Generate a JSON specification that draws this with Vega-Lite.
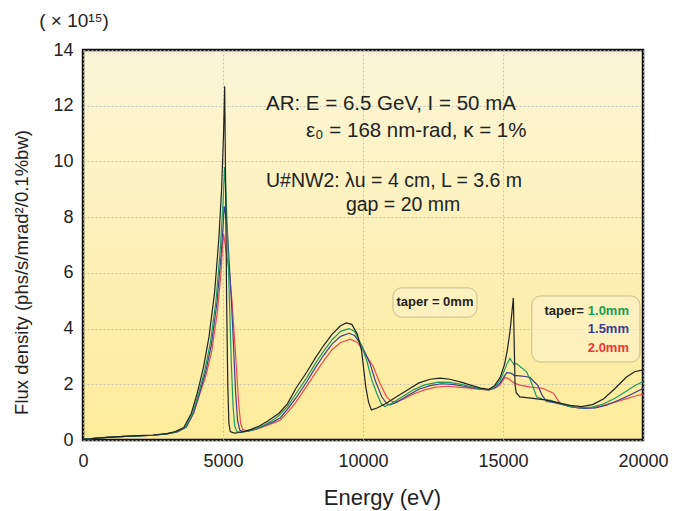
{
  "$schema": "https://vega.github.io/schema/vega-lite/v6.json",
  "width": 560,
  "height": 390,
  "autosize": {"type": "none"},
  "padding": {"left": 83, "top": 50, "right": 31, "bottom": 71},
  "background": "white",
  "config": {
    "font": "Liberation Sans",
    "view": {
      "stroke": "#111111",
      "strokeWidth": 2.5,
      "fill": {"gradient": "linear", "x1": 0, "y1": 0, "x2": 0, "y2": 1,
        "stops": [{"offset": 0, "color": "#fbf6d8"}, {"offset": 0.5, "color": "#fdf0b8"}, {"offset": 1, "color": "#fcec9a"}]}
    },
    "axis": {
      "domain": false, "ticks": false, "labelFlush": false, "labelOverlap": false,
      "grid": true, "gridColor": "#b8b8b8", "gridDash": [2, 2], "gridWidth": 0.8,
      "labelFont": "Liberation Sans", "labelFontSize": 18, "labelColor": "#222222",
      "titleFont": "Liberation Sans", "titleFontWeight": "normal", "titleColor": "#222222"
    }
  },
  "data": {"values": [
    {"e":0,"f":0.02,"s":"2.0"},{"e":500,"f":0.07,"s":"2.0"},{"e":1000,"f":0.1,"s":"2.0"},{"e":1500,"f":0.13,"s":"2.0"},{"e":2000,"f":0.15,"s":"2.0"},{"e":2500,"f":0.17,"s":"2.0"},{"e":3000,"f":0.22,"s":"2.0"},{"e":3400,"f":0.3,"s":"2.0"},{"e":3700,"f":0.48,"s":"2.0"},{"e":3950,"f":0.96,"s":"2.0"},{"e":4180,"f":1.68,"s":"2.0"},{"e":4400,"f":2.35,"s":"2.0"},{"e":4600,"f":3.2,"s":"2.0"},{"e":4800,"f":4.6,"s":"2.0"},{"e":4920,"f":5.9,"s":"2.0"},{"e":4990,"f":7.0,"s":"2.0"},{"e":5020,"f":7.4,"s":"2.0"},{"e":5080,"f":7.0,"s":"2.0"},{"e":5150,"f":6.5,"s":"2.0"},{"e":5230,"f":6.0,"s":"2.0"},{"e":5320,"f":5.0,"s":"2.0"},{"e":5400,"f":3.8,"s":"2.0"},{"e":5480,"f":2.6,"s":"2.0"},{"e":5560,"f":1.3,"s":"2.0"},{"e":5630,"f":0.6,"s":"2.0"},{"e":5700,"f":0.38,"s":"2.0"},{"e":5850,"f":0.32,"s":"2.0"},{"e":6050,"f":0.35,"s":"2.0"},{"e":6300,"f":0.42,"s":"2.0"},{"e":6600,"f":0.53,"s":"2.0"},{"e":6900,"f":0.65,"s":"2.0"},{"e":7050,"f":0.72,"s":"2.0"},{"e":7300,"f":0.98,"s":"2.0"},{"e":7600,"f":1.35,"s":"2.0"},{"e":8000,"f":1.95,"s":"2.0"},{"e":8300,"f":2.4,"s":"2.0"},{"e":8600,"f":2.85,"s":"2.0"},{"e":8900,"f":3.25,"s":"2.0"},{"e":9200,"f":3.5,"s":"2.0"},{"e":9550,"f":3.62,"s":"2.0"},{"e":9800,"f":3.5,"s":"2.0"},{"e":10050,"f":3.15,"s":"2.0"},{"e":10370,"f":2.63,"s":"2.0"},{"e":10600,"f":2.05,"s":"2.0"},{"e":10840,"f":1.55,"s":"2.0"},{"e":11000,"f":1.4,"s":"2.0"},{"e":11140,"f":1.37,"s":"2.0"},{"e":11400,"f":1.45,"s":"2.0"},{"e":11800,"f":1.65,"s":"2.0"},{"e":12200,"f":1.8,"s":"2.0"},{"e":12600,"f":1.9,"s":"2.0"},{"e":13000,"f":1.93,"s":"2.0"},{"e":13400,"f":1.9,"s":"2.0"},{"e":13800,"f":1.86,"s":"2.0"},{"e":14200,"f":1.82,"s":"2.0"},{"e":14500,"f":1.8,"s":"2.0"},{"e":14700,"f":1.85,"s":"2.0"},{"e":14900,"f":1.98,"s":"2.0"},{"e":15070,"f":2.25,"s":"2.0"},{"e":15200,"f":2.2,"s":"2.0"},{"e":15400,"f":2.05,"s":"2.0"},{"e":15600,"f":1.97,"s":"2.0"},{"e":16000,"f":1.9,"s":"2.0"},{"e":16440,"f":1.85,"s":"2.0"},{"e":16650,"f":1.75,"s":"2.0"},{"e":16800,"f":1.68,"s":"2.0"},{"e":16950,"f":1.45,"s":"2.0"},{"e":17030,"f":1.32,"s":"2.0"},{"e":17300,"f":1.22,"s":"2.0"},{"e":17700,"f":1.15,"s":"2.0"},{"e":18100,"f":1.15,"s":"2.0"},{"e":18500,"f":1.22,"s":"2.0"},{"e":18900,"f":1.33,"s":"2.0"},{"e":19300,"f":1.45,"s":"2.0"},{"e":19700,"f":1.57,"s":"2.0"},{"e":20000,"f":1.65,"s":"2.0"},

    {"e":0,"f":0.02,"s":"1.5"},{"e":500,"f":0.07,"s":"1.5"},{"e":1000,"f":0.1,"s":"1.5"},{"e":1500,"f":0.13,"s":"1.5"},{"e":2000,"f":0.15,"s":"1.5"},{"e":2500,"f":0.17,"s":"1.5"},{"e":3000,"f":0.22,"s":"1.5"},{"e":3350,"f":0.29,"s":"1.5"},{"e":3680,"f":0.46,"s":"1.5"},{"e":3950,"f":0.98,"s":"1.5"},{"e":4160,"f":1.68,"s":"1.5"},{"e":4380,"f":2.45,"s":"1.5"},{"e":4580,"f":3.4,"s":"1.5"},{"e":4780,"f":4.9,"s":"1.5"},{"e":4920,"f":6.5,"s":"1.5"},{"e":5000,"f":7.6,"s":"1.5"},{"e":5040,"f":8.4,"s":"1.5"},{"e":5090,"f":8.1,"s":"1.5"},{"e":5150,"f":7.6,"s":"1.5"},{"e":5220,"f":6.4,"s":"1.5"},{"e":5300,"f":5.0,"s":"1.5"},{"e":5380,"f":3.3,"s":"1.5"},{"e":5450,"f":1.7,"s":"1.5"},{"e":5520,"f":0.7,"s":"1.5"},{"e":5600,"f":0.35,"s":"1.5"},{"e":5750,"f":0.3,"s":"1.5"},{"e":5950,"f":0.33,"s":"1.5"},{"e":6200,"f":0.4,"s":"1.5"},{"e":6500,"f":0.52,"s":"1.5"},{"e":6800,"f":0.66,"s":"1.5"},{"e":7050,"f":0.8,"s":"1.5"},{"e":7300,"f":1.1,"s":"1.5"},{"e":7600,"f":1.5,"s":"1.5"},{"e":8000,"f":2.1,"s":"1.5"},{"e":8300,"f":2.6,"s":"1.5"},{"e":8600,"f":3.05,"s":"1.5"},{"e":8900,"f":3.45,"s":"1.5"},{"e":9200,"f":3.72,"s":"1.5"},{"e":9500,"f":3.83,"s":"1.5"},{"e":9700,"f":3.75,"s":"1.5"},{"e":9950,"f":3.4,"s":"1.5"},{"e":10250,"f":2.75,"s":"1.5"},{"e":10450,"f":2.1,"s":"1.5"},{"e":10670,"f":1.55,"s":"1.5"},{"e":10850,"f":1.3,"s":"1.5"},{"e":10960,"f":1.26,"s":"1.5"},{"e":11200,"f":1.35,"s":"1.5"},{"e":11600,"f":1.6,"s":"1.5"},{"e":12000,"f":1.82,"s":"1.5"},{"e":12400,"f":1.95,"s":"1.5"},{"e":12800,"f":2.02,"s":"1.5"},{"e":13200,"f":2.0,"s":"1.5"},{"e":13600,"f":1.93,"s":"1.5"},{"e":14000,"f":1.86,"s":"1.5"},{"e":14300,"f":1.82,"s":"1.5"},{"e":14500,"f":1.8,"s":"1.5"},{"e":14700,"f":1.88,"s":"1.5"},{"e":14900,"f":2.05,"s":"1.5"},{"e":15130,"f":2.42,"s":"1.5"},{"e":15280,"f":2.4,"s":"1.5"},{"e":15400,"f":2.32,"s":"1.5"},{"e":15600,"f":2.3,"s":"1.5"},{"e":15800,"f":2.28,"s":"1.5"},{"e":15960,"f":2.25,"s":"1.5"},{"e":16100,"f":2.1,"s":"1.5"},{"e":16250,"f":1.95,"s":"1.5"},{"e":16400,"f":1.6,"s":"1.5"},{"e":16560,"f":1.38,"s":"1.5"},{"e":16800,"f":1.35,"s":"1.5"},{"e":17100,"f":1.28,"s":"1.5"},{"e":17500,"f":1.18,"s":"1.5"},{"e":17900,"f":1.13,"s":"1.5"},{"e":18300,"f":1.15,"s":"1.5"},{"e":18700,"f":1.25,"s":"1.5"},{"e":19100,"f":1.42,"s":"1.5"},{"e":19500,"f":1.6,"s":"1.5"},{"e":19800,"f":1.75,"s":"1.5"},{"e":20000,"f":1.85,"s":"1.5"},

    {"e":0,"f":0.02,"s":"1.0"},{"e":500,"f":0.07,"s":"1.0"},{"e":1000,"f":0.1,"s":"1.0"},{"e":1500,"f":0.13,"s":"1.0"},{"e":2000,"f":0.15,"s":"1.0"},{"e":2500,"f":0.17,"s":"1.0"},{"e":3000,"f":0.22,"s":"1.0"},{"e":3300,"f":0.28,"s":"1.0"},{"e":3650,"f":0.45,"s":"1.0"},{"e":3920,"f":0.96,"s":"1.0"},{"e":4130,"f":1.68,"s":"1.0"},{"e":4350,"f":2.5,"s":"1.0"},{"e":4550,"f":3.5,"s":"1.0"},{"e":4750,"f":5.0,"s":"1.0"},{"e":4900,"f":6.8,"s":"1.0"},{"e":5000,"f":8.5,"s":"1.0"},{"e":5060,"f":9.8,"s":"1.0"},{"e":5110,"f":8.8,"s":"1.0"},{"e":5170,"f":7.0,"s":"1.0"},{"e":5230,"f":5.0,"s":"1.0"},{"e":5300,"f":2.7,"s":"1.0"},{"e":5360,"f":1.2,"s":"1.0"},{"e":5420,"f":0.5,"s":"1.0"},{"e":5500,"f":0.3,"s":"1.0"},{"e":5700,"f":0.28,"s":"1.0"},{"e":5900,"f":0.33,"s":"1.0"},{"e":6100,"f":0.38,"s":"1.0"},{"e":6400,"f":0.5,"s":"1.0"},{"e":6700,"f":0.66,"s":"1.0"},{"e":7000,"f":0.88,"s":"1.0"},{"e":7300,"f":1.2,"s":"1.0"},{"e":7600,"f":1.65,"s":"1.0"},{"e":8000,"f":2.25,"s":"1.0"},{"e":8300,"f":2.75,"s":"1.0"},{"e":8600,"f":3.2,"s":"1.0"},{"e":8900,"f":3.6,"s":"1.0"},{"e":9200,"f":3.9,"s":"1.0"},{"e":9500,"f":4.0,"s":"1.0"},{"e":9700,"f":3.9,"s":"1.0"},{"e":9900,"f":3.5,"s":"1.0"},{"e":10130,"f":2.87,"s":"1.0"},{"e":10300,"f":2.2,"s":"1.0"},{"e":10490,"f":1.68,"s":"1.0"},{"e":10650,"f":1.3,"s":"1.0"},{"e":10780,"f":1.2,"s":"1.0"},{"e":11000,"f":1.3,"s":"1.0"},{"e":11400,"f":1.55,"s":"1.0"},{"e":11800,"f":1.8,"s":"1.0"},{"e":12200,"f":1.98,"s":"1.0"},{"e":12700,"f":2.08,"s":"1.0"},{"e":13100,"f":2.07,"s":"1.0"},{"e":13500,"f":2.0,"s":"1.0"},{"e":13900,"f":1.9,"s":"1.0"},{"e":14200,"f":1.83,"s":"1.0"},{"e":14500,"f":1.8,"s":"1.0"},{"e":14700,"f":1.9,"s":"1.0"},{"e":14900,"f":2.15,"s":"1.0"},{"e":15050,"f":2.5,"s":"1.0"},{"e":15150,"f":2.75,"s":"1.0"},{"e":15250,"f":2.93,"s":"1.0"},{"e":15330,"f":2.8,"s":"1.0"},{"e":15400,"f":2.7,"s":"1.0"},{"e":15470,"f":2.75,"s":"1.0"},{"e":15600,"f":2.65,"s":"1.0"},{"e":15840,"f":2.45,"s":"1.0"},{"e":16000,"f":2.1,"s":"1.0"},{"e":16200,"f":1.55,"s":"1.0"},{"e":16400,"f":1.47,"s":"1.0"},{"e":16700,"f":1.42,"s":"1.0"},{"e":17000,"f":1.32,"s":"1.0"},{"e":17400,"f":1.2,"s":"1.0"},{"e":17800,"f":1.15,"s":"1.0"},{"e":18200,"f":1.18,"s":"1.0"},{"e":18600,"f":1.3,"s":"1.0"},{"e":19000,"f":1.5,"s":"1.0"},{"e":19400,"f":1.75,"s":"1.0"},{"e":19700,"f":1.95,"s":"1.0"},{"e":20000,"f":2.1,"s":"1.0"},

    {"e":0,"f":0.02,"s":"0"},{"e":250,"f":0.04,"s":"0"},{"e":500,"f":0.07,"s":"0"},{"e":1000,"f":0.1,"s":"0"},{"e":1500,"f":0.13,"s":"0"},{"e":2000,"f":0.16,"s":"0"},{"e":2500,"f":0.18,"s":"0"},{"e":3000,"f":0.23,"s":"0"},{"e":3300,"f":0.3,"s":"0"},{"e":3600,"f":0.45,"s":"0"},{"e":3870,"f":0.96,"s":"0"},{"e":4080,"f":1.68,"s":"0"},{"e":4300,"f":2.6,"s":"0"},{"e":4500,"f":3.7,"s":"0"},{"e":4700,"f":5.3,"s":"0"},{"e":4850,"f":7.2,"s":"0"},{"e":4950,"f":9.0,"s":"0"},{"e":5020,"f":11.0,"s":"0"},{"e":5060,"f":12.7,"s":"0"},{"e":5090,"f":9.5,"s":"0"},{"e":5130,"f":5.0,"s":"0"},{"e":5170,"f":2.0,"s":"0"},{"e":5210,"f":0.6,"s":"0"},{"e":5260,"f":0.3,"s":"0"},{"e":5400,"f":0.25,"s":"0"},{"e":5600,"f":0.27,"s":"0"},{"e":5800,"f":0.32,"s":"0"},{"e":6000,"f":0.38,"s":"0"},{"e":6300,"f":0.5,"s":"0"},{"e":6600,"f":0.68,"s":"0"},{"e":7000,"f":0.96,"s":"0"},{"e":7300,"f":1.3,"s":"0"},{"e":7600,"f":1.85,"s":"0"},{"e":8000,"f":2.45,"s":"0"},{"e":8300,"f":2.95,"s":"0"},{"e":8600,"f":3.4,"s":"0"},{"e":8900,"f":3.8,"s":"0"},{"e":9200,"f":4.1,"s":"0"},{"e":9400,"f":4.2,"s":"0"},{"e":9600,"f":4.15,"s":"0"},{"e":9800,"f":3.8,"s":"0"},{"e":9950,"f":3.2,"s":"0"},{"e":10100,"f":1.9,"s":"0"},{"e":10200,"f":1.35,"s":"0"},{"e":10300,"f":1.08,"s":"0"},{"e":10500,"f":1.15,"s":"0"},{"e":10800,"f":1.3,"s":"0"},{"e":11200,"f":1.55,"s":"0"},{"e":11600,"f":1.8,"s":"0"},{"e":12000,"f":2.05,"s":"0"},{"e":12400,"f":2.18,"s":"0"},{"e":12750,"f":2.22,"s":"0"},{"e":13100,"f":2.18,"s":"0"},{"e":13500,"f":2.08,"s":"0"},{"e":13900,"f":1.95,"s":"0"},{"e":14200,"f":1.86,"s":"0"},{"e":14500,"f":1.82,"s":"0"},{"e":14700,"f":1.95,"s":"0"},{"e":14900,"f":2.25,"s":"0"},{"e":15050,"f":2.7,"s":"0"},{"e":15150,"f":3.2,"s":"0"},{"e":15250,"f":3.9,"s":"0"},{"e":15320,"f":4.6,"s":"0"},{"e":15370,"f":5.1,"s":"0"},{"e":15400,"f":3.5,"s":"0"},{"e":15430,"f":2.0,"s":"0"},{"e":15470,"f":1.7,"s":"0"},{"e":15600,"f":1.55,"s":"0"},{"e":16000,"f":1.5,"s":"0"},{"e":16500,"f":1.44,"s":"0"},{"e":17000,"f":1.33,"s":"0"},{"e":17400,"f":1.24,"s":"0"},{"e":17800,"f":1.2,"s":"0"},{"e":18200,"f":1.27,"s":"0"},{"e":18600,"f":1.48,"s":"0"},{"e":19000,"f":1.85,"s":"0"},{"e":19400,"f":2.25,"s":"0"},{"e":19700,"f":2.45,"s":"0"},{"e":20000,"f":2.52,"s":"0"}
  ]},
  "layer": [
    {
      "mark": {"type": "line", "strokeWidth": 1.2, "clip": true},
      "encoding": {
        "x": {"field": "e", "type": "quantitative", "scale": {"domain": [0, 20000], "nice": false},
          "axis": {"values": [0, 5000, 10000, 15000, 20000], "format": "d", "labelPadding": 12, "title": "Energy (eV)", "titleFontSize": 22, "titleX": 299, "titleY": 64, "titleBaseline": "alphabetic"}},
        "y": {"field": "f", "type": "quantitative", "scale": {"domain": [0, 14], "nice": false},
          "axis": {"values": [0, 2, 4, 6, 8, 10, 12, 14], "labelPadding": 10, "title": "Flux density (phs/s/mrad²/0.1%bw)", "titleFontSize": 18.5, "titleX": -56, "titleY": 222, "titleBaseline": "alphabetic"}},
        "color": {"field": "s", "type": "nominal", "legend": null,
          "scale": {"domain": ["2.0", "1.5", "1.0", "0"], "range": ["#ec4a55", "#3c3f8e", "#1c9a62", "#222222"]}},
        "detail": {"field": "s"}
      }
    },
    {
      "data": {"values": [{}]},
      "mark": {"type": "rect", "cornerRadius": 9, "fill": "#fcf4c8", "fillOpacity": 0.6, "stroke": "#c9bb8c", "strokeWidth": 1},
      "encoding": {"x": {"datum": 11070}, "x2": {"datum": 14070}, "y": {"datum": 5.46}, "y2": {"datum": 4.41}}
    },
    {
      "data": {"values": [{}]},
      "mark": {"type": "rect", "cornerRadius": 9, "fill": "#fcf4c8", "fillOpacity": 0.6, "stroke": "#c9bb8c", "strokeWidth": 1},
      "encoding": {"x": {"datum": 16030}, "x2": {"datum": 19890}, "y": {"datum": 5.17}, "y2": {"datum": 2.8}}
    },
    {
      "data": {"values": [{}]},
      "mark": {"type": "text", "text": "( × 10¹⁵)", "fontSize": 19, "color": "#222222", "align": "center", "baseline": "middle"},
      "encoding": {"x": {"datum": -320}, "y": {"datum": 15.04}}
    },
    {
      "data": {"values": [{}]},
      "mark": {"type": "text", "text": "AR: E = 6.5 GeV, I = 50 mA", "fontSize": 20.5, "color": "#222222", "align": "left", "baseline": "middle"},
      "encoding": {"x": {"datum": 6535}, "y": {"datum": 12.06}}
    },
    {
      "data": {"values": [{}]},
      "mark": {"type": "text", "text": "ε₀ = 168 nm-rad, κ = 1%", "fontSize": 20.5, "color": "#222222", "align": "left", "baseline": "middle"},
      "encoding": {"x": {"datum": 7963}, "y": {"datum": 11.09}}
    },
    {
      "data": {"values": [{}]},
      "mark": {"type": "text", "text": "U#NW2: λu = 4 cm, L = 3.6 m", "fontSize": 19.5, "color": "#222222", "align": "left", "baseline": "middle"},
      "encoding": {"x": {"datum": 6535}, "y": {"datum": 9.3}}
    },
    {
      "data": {"values": [{}]},
      "mark": {"type": "text", "text": "gap = 20 mm", "fontSize": 19.5, "color": "#222222", "align": "left", "baseline": "middle"},
      "encoding": {"x": {"datum": 9390}, "y": {"datum": 8.43}}
    },
    {
      "data": {"values": [{}]},
      "mark": {"type": "text", "text": "taper = 0mm", "fontSize": 13, "fontWeight": "bold", "color": "#222222", "align": "center", "baseline": "middle"},
      "encoding": {"x": {"datum": 12570}, "y": {"datum": 4.95}}
    },
    {
      "data": {"values": [{}]},
      "mark": {"type": "text", "text": "taper=", "fontSize": 13, "fontWeight": "bold", "color": "#222222", "align": "right", "baseline": "middle"},
      "encoding": {"x": {"datum": 17890}, "y": {"datum": 4.63}}
    },
    {
      "data": {"values": [{}]},
      "mark": {"type": "text", "text": "1.0mm", "fontSize": 13, "fontWeight": "bold", "color": "#14a050", "align": "right", "baseline": "middle"},
      "encoding": {"x": {"datum": 19500}, "y": {"datum": 4.63}}
    },
    {
      "data": {"values": [{}]},
      "mark": {"type": "text", "text": "1.5mm", "fontSize": 13, "fontWeight": "bold", "color": "#3a3c92", "align": "right", "baseline": "middle"},
      "encoding": {"x": {"datum": 19500}, "y": {"datum": 3.98}}
    },
    {
      "data": {"values": [{}]},
      "mark": {"type": "text", "text": "2.0mm", "fontSize": 13, "fontWeight": "bold", "color": "#f03434", "align": "right", "baseline": "middle"},
      "encoding": {"x": {"datum": 19500}, "y": {"datum": 3.3}}
    }
  ]
}
